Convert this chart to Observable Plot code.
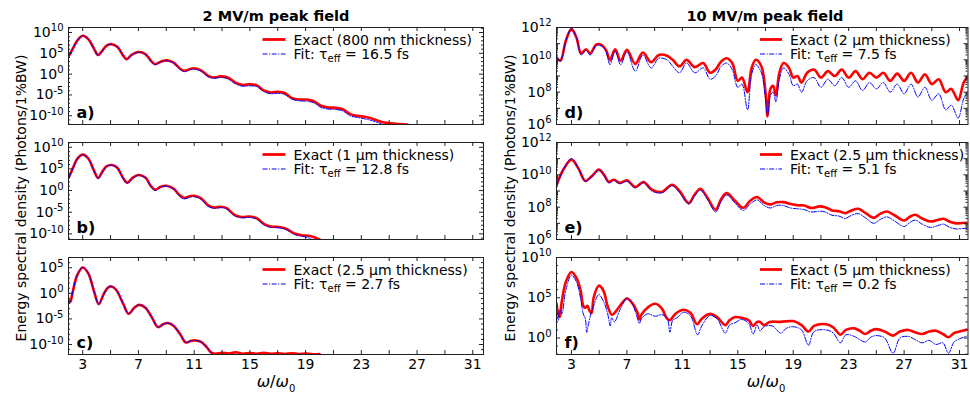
<!DOCTYPE html>
<html><head><meta charset="utf-8">
<script src="https://cdn.jsdelivr.net/npm/d3@7"></script>
<script src="https://cdn.jsdelivr.net/npm/@observablehq/plot@0.6"></script>
<style>
body{margin:0;background:#fff;font-family:"DejaVu Sans",sans-serif;}
#root{position:relative;width:970px;height:397px;overflow:hidden;background:#fff;}
.p{position:absolute;}
.t{position:absolute;white-space:nowrap;color:#000;font-family:"DejaVu Sans",sans-serif;}
</style></head><body><div id="root"></div>
<script>
// ---------- data: [omega/omega0, log10(spectral density)] ----------
const xTicks = [3,5,7,9,11,13,15,17,19,21,23,25,27,29,31];
const xLabels = [3,7,11,15,19,23,27,31];
const titles = ["2 MV/m peak field", "10 MV/m peak field"];
const yTitle = "Energy spectral density (Photons/1%BW)";
const panelLabels = ["a)","b)","c)","d)","e)","f)"];
const exactLabels = ["Exact (800 nm thickness)","Exact (1 \u03bcm thickness)","Exact (2.5 \u03bcm thickness)",
                     "Exact (2 \u03bcm thickness)","Exact (2.5 \u03bcm thickness)","Exact (5 \u03bcm thickness)"];
const tauEff = ["16.5","12.8","2.7","7.5","5.1","0.2"];

const exactA = [[2.0,4.4],[2.3,6.2],[2.6,8.0],[3.0,9.2],[3.4,8.4],[3.8,6.2],[4.1,4.6],[4.4,5.6],[4.7,6.8],[5.05,7.2],[5.5,6.5],[5.9,4.5],[6.15,3.6],[6.5,4.6],[7.0,5.3],[7.5,4.8],[7.95,3.0],[8.2,2.4],[8.6,3.0],[9.05,3.3],[9.5,2.8],[10.0,1.3],[10.3,0.8],[10.9,1.4],[11.5,0.9],[12.0,-0.4],[12.4,-0.8],[12.9,-0.55],[13.4,-0.8],[14.0,-2.1],[14.5,-2.6],[15.0,-2.45],[15.5,-2.7],[16.0,-3.9],[16.5,-4.4],[17.0,-4.25],[17.5,-4.55],[18.0,-5.7],[18.5,-6.1],[19.1,-6.1],[19.6,-6.5],[20.1,-7.6],[20.6,-8.0],[21.2,-8.1],[21.7,-8.5],[22.2,-9.6],[22.7,-10.0],[23.3,-10.3],[23.8,-10.7],[24.3,-11.3],[24.8,-11.7],[25.3,-11.85],[25.8,-12.0],[26.3,-12.1]];
const fitA = [[2.0,4.3],[2.3,6.2],[2.6,8.0],[3.0,9.2],[3.4,8.4],[3.8,6.2],[4.1,4.5],[4.4,5.6],[4.7,6.8],[5.05,7.15],[5.5,6.5],[5.9,4.4],[6.15,3.5],[6.5,4.5],[7.0,5.25],[7.5,4.7],[7.95,2.9],[8.2,2.3],[8.6,2.9],[9.05,3.2],[9.5,2.7],[10.0,1.1],[10.3,0.6],[10.9,1.2],[11.5,0.7],[12.0,-0.6],[12.4,-1.0],[12.9,-0.8],[13.4,-1.1],[14.0,-2.4],[14.5,-2.9],[15.0,-2.8],[15.5,-3.0],[16.0,-4.2],[16.5,-4.7],[17.0,-4.6],[17.5,-4.9],[18.0,-6.0],[18.5,-6.4],[19.1,-6.5],[19.6,-6.9],[20.1,-8.0],[20.6,-8.4],[21.2,-8.5],[21.7,-8.9],[22.2,-10.0],[22.7,-10.4],[23.3,-10.8],[23.8,-11.2],[24.3,-11.8],[24.7,-12.3]];

const exactB = [[2.0,3.0],[2.3,5.2],[2.6,7.3],[3.0,8.3],[3.4,7.4],[3.8,4.7],[4.1,2.9],[4.4,4.3],[4.7,5.6],[5.1,5.9],[5.5,5.2],[5.9,2.9],[6.2,1.8],[6.6,3.0],[7.0,3.6],[7.5,3.0],[7.9,1.0],[8.2,0.2],[8.6,0.9],[9.0,1.1],[9.5,0.5],[10.0,-1.2],[10.3,-1.7],[10.7,-1.3],[11.0,-1.2],[11.5,-1.8],[12.0,-3.4],[12.4,-3.9],[12.9,-3.75],[13.3,-4.0],[13.9,-5.6],[14.4,-6.1],[15.0,-6.0],[15.5,-6.4],[16.0,-7.7],[16.5,-8.3],[17.1,-8.4],[17.6,-8.8],[18.2,-9.9],[18.7,-10.3],[19.3,-10.5],[19.7,-10.9],[20.0,-11.3]];
const fitB = [[2.0,2.9],[2.3,5.1],[2.6,7.3],[3.0,8.3],[3.4,7.4],[3.8,4.6],[4.1,2.8],[4.4,4.2],[4.7,5.5],[5.1,5.85],[5.5,5.1],[5.9,2.8],[6.2,1.7],[6.6,2.9],[7.0,3.5],[7.5,2.9],[7.9,0.9],[8.2,0.0],[8.6,0.8],[9.0,1.0],[9.5,0.4],[10.0,-1.4],[10.3,-1.9],[10.7,-1.5],[11.0,-1.4],[11.5,-2.0],[12.0,-3.6],[12.4,-4.1],[12.9,-3.95],[13.3,-4.2],[13.9,-5.8],[14.4,-6.3],[15.0,-6.2],[15.5,-6.6],[16.0,-7.9],[16.5,-8.5],[17.1,-8.6],[17.6,-9.0],[18.2,-10.1],[18.7,-10.5],[19.2,-10.9],[19.5,-11.4]];

const exactC = [[1.97,-1.3],[2.1,-1.7],[2.3,0.5],[2.6,3.5],[3.0,5.05],[3.4,3.9],[3.8,0.5],[4.15,-2.1],[4.5,-0.2],[4.8,1.1],[5.05,1.35],[5.4,0.7],[5.9,-2.0],[6.3,-4.0],[6.7,-2.8],[7.05,-2.25],[7.5,-2.8],[8.0,-4.9],[8.4,-6.6],[8.8,-6.0],[9.1,-5.8],[9.5,-6.3],[10.0,-8.0],[10.4,-9.6],[10.8,-9.25],[11.1,-9.2],[11.5,-9.5],[11.9,-10.5],[12.2,-11.5],[12.5,-11.8],[13,-11.6],[13.5,-11.75],[14,-11.5],[14.5,-11.8],[15,-11.65],[15.5,-11.8],[16,-11.6],[16.5,-11.8],[17,-11.7],[17.5,-11.85],[18,-11.7],[18.5,-11.85],[19,-11.75],[19.5,-11.9],[20,-11.85]];
const fitC = [[1.97,-1.3],[2.1,-1.7],[2.3,0.5],[2.6,3.5],[3.0,5.05],[3.4,3.9],[3.8,0.5],[4.15,-2.1],[4.5,-0.2],[4.8,1.1],[5.05,1.35],[5.4,0.7],[5.9,-2.0],[6.3,-4.0],[6.7,-2.8],[7.05,-2.25],[7.5,-2.8],[8.0,-4.9],[8.4,-6.6],[8.8,-6.0],[9.1,-5.8],[9.5,-6.3],[10.0,-8.0],[10.4,-9.6],[10.8,-9.25],[11.1,-9.2],[11.5,-9.5],[11.9,-10.5],[12.2,-11.5],[12.35,-12.3]];

const exactD = [[1.92,10.1],[2.2,9.95],[2.6,11.2],[3.0,11.9],[3.35,11.4],[3.7,10.4],[4.05,10.65],[4.35,10.4],[4.8,10.95],[5.2,10.9],[5.5,10.6],[5.78,9.98],[6.15,10.65],[6.55,9.95],[7.0,10.62],[7.6,9.75],[8.15,10.45],[8.75,9.85],[9.3,10.3],[9.9,10.25],[10.3,10.0],[10.8,9.6],[11.3,10.0],[11.9,9.55],[12.5,9.8],[13.0,9.2],[13.4,9.4],[13.8,9.9],[14.2,10.1],[14.6,9.8],[15.0,8.7],[15.3,8.9],[15.7,8.0],[16.0,9.5],[16.3,10.0],[16.7,9.6],[17.0,8.0],[17.15,6.5],[17.35,8.2],[17.55,8.4],[17.75,7.8],[18.0,9.2],[18.3,9.8],[18.7,9.5],[19.0,8.9],[19.3,9.0],[19.6,8.6],[20.0,9.2],[20.5,9.4],[21.0,8.9],[21.5,9.3],[22.0,9.0],[22.5,9.4],[23.0,8.9],[23.5,9.3],[24.0,8.8],[24.5,9.2],[25.0,8.9],[25.5,9.2],[26.0,8.7],[26.5,9.15],[27.0,8.7],[27.5,9.2],[28.0,8.6],[28.5,9.1],[29.0,8.5],[29.5,8.8],[30.0,8.0],[30.4,8.2],[30.9,7.5],[31.3,8.6],[31.7,9.1]];
const fitD = [[1.92,10.3],[2.2,9.9],[2.6,11.2],[3.0,11.95],[3.35,11.4],[3.7,10.3],[4.05,10.6],[4.35,10.3],[4.8,10.9],[5.2,10.85],[5.5,10.5],[5.78,9.7],[6.15,10.55],[6.55,9.7],[7.0,10.5],[7.6,9.3],[8.15,10.3],[8.75,9.5],[9.3,10.1],[9.9,10.0],[10.3,9.6],[10.8,9.2],[11.3,9.8],[11.9,9.2],[12.5,9.5],[13.0,8.8],[13.4,9.0],[13.8,9.6],[14.2,9.8],[14.6,9.4],[15.0,8.3],[15.3,8.5],[15.7,6.9],[16.0,9.1],[16.3,9.7],[16.7,9.2],[17.0,7.6],[17.15,6.6],[17.35,7.8],[17.55,8.0],[17.75,7.4],[18.0,8.8],[18.3,9.5],[18.7,9.1],[19.0,8.4],[19.3,8.5],[19.6,8.0],[20.0,8.7],[20.5,8.9],[21.0,8.3],[21.5,8.8],[22.0,8.4],[22.5,8.9],[23.0,8.3],[23.5,8.7],[24.0,8.1],[24.5,8.6],[25.0,8.2],[25.5,8.6],[26.0,8.0],[26.5,8.5],[27.0,7.9],[27.5,8.5],[28.0,7.7],[28.5,8.3],[29.0,7.5],[29.5,7.9],[30.0,6.9],[30.4,7.2],[30.9,6.4],[31.3,7.6],[31.7,8.2]];

const exactE = [[1.92,9.35],[2.4,10.3],[3.0,10.94],[3.5,10.4],[4.0,9.62],[4.5,9.95],[4.97,10.32],[5.35,10.0],[5.7,9.56],[6.05,9.7],[6.5,9.5],[7.0,9.66],[7.6,9.25],[8.2,9.56],[8.8,9.08],[9.5,8.94],[10.26,9.39],[10.8,9.0],[11.46,8.25],[11.9,8.8],[12.3,9.14],[12.8,8.6],[13.4,7.84],[13.8,8.5],[14.2,8.87],[14.8,8.4],[15.4,7.96],[15.9,8.4],[16.4,8.63],[16.9,8.3],[17.35,8.17],[17.8,8.3],[18.3,8.31],[18.8,8.2],[19.3,8.12],[19.8,8.1],[20.3,7.95],[20.9,8.05],[21.3,8.0],[21.8,7.8],[22.3,7.75],[22.76,7.63],[23.2,7.8],[23.7,7.9],[24.2,7.65],[24.8,7.34],[25.3,7.6],[25.76,7.73],[26.3,7.5],[27.0,7.18],[27.4,7.4],[27.8,7.53],[28.3,7.3],[28.9,7.11],[29.4,7.2],[29.85,7.28],[30.3,7.1],[30.8,7.0],[31.2,7.02],[31.65,7.03]];
const fitE = [[1.92,9.3],[2.4,10.3],[3.0,11.0],[3.5,10.4],[4.0,9.6],[4.5,9.9],[4.97,10.3],[5.35,9.95],[5.7,9.5],[6.05,9.65],[6.5,9.45],[7.0,9.6],[7.6,9.2],[8.2,9.5],[8.8,9.0],[9.5,8.88],[10.26,9.32],[10.8,8.9],[11.46,8.2],[11.9,8.7],[12.3,9.05],[12.8,8.5],[13.4,7.7],[13.8,8.35],[14.2,8.75],[14.8,8.25],[15.4,7.8],[15.9,8.2],[16.4,8.45],[16.9,8.1],[17.35,7.95],[17.8,8.1],[18.3,8.1],[18.8,7.95],[19.3,7.9],[19.8,7.85],[20.3,7.7],[20.9,7.75],[21.3,7.7],[21.8,7.5],[22.3,7.45],[22.76,7.3],[23.2,7.5],[23.7,7.6],[24.2,7.35],[24.8,7.0],[25.3,7.25],[25.76,7.4],[26.3,7.15],[27.0,6.8],[27.4,7.05],[27.8,7.2],[28.3,6.95],[28.9,6.75],[29.4,6.85],[29.85,6.95],[30.3,6.75],[30.8,6.65],[31.2,6.68],[31.65,6.7]];

const exactF = [[1.92,4.3],[2.05,3.0],[2.15,2.6],[2.3,4.5],[2.6,7.0],[3.0,8.2],[3.35,7.5],[3.65,6.0],[3.85,4.0],[4.0,3.75],[4.15,4.0],[4.3,3.4],[4.45,3.1],[4.6,5.0],[4.97,6.5],[5.3,5.9],[5.6,4.0],[5.9,2.9],[6.1,3.1],[6.5,4.0],[7.0,4.9],[7.4,4.3],[7.75,3.2],[7.9,2.3],[8.05,2.9],[8.5,3.8],[9.05,4.25],[9.5,3.7],[9.9,2.4],[10.1,2.2],[10.5,3.0],[11.1,3.5],[11.6,3.1],[12.06,1.7],[12.4,2.4],[13.0,3.0],[13.5,2.6],[14.1,1.6],[14.4,2.2],[14.8,2.6],[15.3,2.5],[15.8,2.2],[16.1,1.5],[16.4,2.0],[16.6,2.0],[16.9,1.6],[17.3,2.0],[18.1,2.0],[19.0,2.1],[19.6,1.6],[20.1,0.8],[20.5,1.5],[21.4,1.7],[21.9,1.3],[22.4,0.4],[22.8,1.0],[23.4,1.2],[23.8,0.9],[24.2,0.5],[24.6,0.9],[25.0,1.1],[25.6,0.8],[26.2,0.3],[26.7,0.8],[27.3,1.0],[27.8,0.7],[28.3,0.5],[28.8,0.8],[29.3,0.9],[29.8,0.5],[30.2,0.1],[30.6,0.6],[31.0,0.8],[31.65,1.1]];
const fitF = [[1.92,3.0],[2.05,2.2],[2.15,3.5],[2.3,3.0],[2.6,6.0],[3.0,7.8],[3.35,7.0],[3.65,5.0],[3.85,3.0],[4.0,2.4],[4.1,0.7],[4.2,1.5],[4.4,3.0],[4.6,4.0],[4.97,5.4],[5.3,4.6],[5.6,3.1],[5.8,1.5],[5.9,2.5],[6.1,2.0],[6.5,3.5],[7.0,4.95],[7.4,4.2],[7.75,2.5],[7.9,1.8],[8.05,2.4],[8.5,3.0],[9.05,2.7],[9.5,2.9],[9.9,2.5],[10.1,0.7],[10.3,2.2],[10.6,2.5],[11.1,3.2],[11.6,2.7],[12.1,0.4],[12.4,1.5],[13.0,2.8],[13.5,2.4],[14.1,0.6],[14.4,1.6],[14.8,1.9],[15.3,2.3],[15.8,1.8],[16.1,0.5],[16.4,1.6],[16.6,0.9],[16.9,1.4],[17.5,1.5],[18.1,0.6],[18.5,1.2],[19.0,1.4],[19.6,1.0],[20.1,-0.9],[20.5,0.8],[21.4,1.0],[21.9,0.6],[22.4,-0.6],[22.8,0.4],[23.4,0.2],[23.8,-0.2],[24.2,-0.5],[24.6,0.1],[25.0,0.3],[25.6,0.0],[26.2,-1.9],[26.7,0.0],[27.3,0.2],[27.8,-0.2],[28.3,-0.6],[28.8,-0.3],[29.3,-0.8],[29.8,-0.6],[30.2,-1.9],[30.6,-0.5],[31.0,-0.1],[31.65,0.3]];

// axis ranges (log10) and major ticks (log10)
const yRanges = [[-12.1,11.2],[-11.3,11.1],[-11.95,7.0],[6,12],[6,12],[-2.05,10]];
const yMajors = [[-10,-5,0,5,10],[-10,-5,0,5,10],[-10,-5,0,5],[6,8,10,12],[6,8,10,12],[0,5,10]];
const yLabeled = [[-10,-5,0,5,10],[-10,-5,0,5,10],[-10,-5,0,5],[6,8,10,12],[6,8,10,12],[0,5,10]];

// ---------- layout ----------
const root = document.getElementById("root");
const cols = [{left:67.5, w:415, dom:[1.98,31.77], legX:262, legLen:23, legText:293},
              {left:556, w:411.5, dom:[1.92,31.61], legX:760, legLen:22, legText:790}];
const rows = [27, 142, 257];
const plotH = 97;
const ML = 62, MR = 6, MT = 6;

const allExact = [exactA, exactB, exactC, exactD, exactE, exactF];
const allFit = [fitA, fitB, fitC, fitD, fitE, fitF];

function supText(svg) {
  d3.select(svg).selectAll("text").each(function() {
    const t = this.textContent;
    if (/^10\^/.test(t) && this.childElementCount === 0) {
      const e = t.slice(3);
      this.textContent = "";
      d3.select(this).append("tspan").text("10");
      d3.select(this).append("tspan").attr("dy","-0.55em").attr("font-size","10px").text(e);
    }
  });
}

for (let k = 0; k < 6; k++) {
  const c = cols[Math.floor(k/3)];
  const r = k % 3;
  const bottom = r === 2;
  const MB = bottom ? 28 : 6;
  const [e0, e1] = yRanges[k];
  const minors = [];
  if (k === 3 || k === 4) {
    for (let n = 6; n < 12; n++) for (let m = 2; m <= 9; m++) minors.push(m * 10**n);
  } else {
    for (let n = Math.ceil(e0); n <= Math.floor(e1); n++) if (!yMajors[k].includes(n)) minors.push(10**n);
  }
  const majors = yMajors[k].map(e => 10**e).concat((k===3||k===4) ? [1e7,1e9,1e11] : []);
  const toRows = arr => arr.map(([x, e]) => ({x, y: 10**e}));
  const W = ML + c.w + MR;
  const svg = Plot.plot({
    width: W, height: MT + plotH + MB,
    marginLeft: ML, marginRight: MR, marginTop: MT, marginBottom: MB,
    style: {fontFamily: "DejaVu Sans, sans-serif", fontSize: "14px", background: "transparent", overflow: "visible", color: "#000"},
    x: {domain: c.dom, axis: null},
    y: {type: "log", domain: [10**e0, 10**e1], axis: null},
    marks: [
      Plot.line(toRows(allExact[k]), {x: "x", y: "y", stroke: "#ff0000", strokeWidth: 2.6, curve: "catmull-rom", clip: true}),
      Plot.line(toRows(allFit[k]), {x: "x", y: "y", stroke: "#0000ff", strokeWidth: 1, strokeDasharray: "5,1.6,1,1.6", curve: "catmull-rom", clip: true}),
      Plot.frame({stroke: "#222", strokeWidth: 1}),
      Plot.tickX(xTicks, {x: d => d, insetTop: plotH - 4, stroke: "#222"}),
      Plot.tickX(xTicks, {x: d => d, insetBottom: plotH - 4, stroke: "#222"}),
      Plot.tickY(majors, {y: d => d, insetRight: c.w - 4, stroke: "#222"}),
      Plot.tickY(majors, {y: d => d, insetLeft: c.w - 4, stroke: "#222"}),
      Plot.tickY(minors, {y: d => d, insetRight: c.w - 2, stroke: "#222"}),
      Plot.tickY(minors, {y: d => d, insetLeft: c.w - 2, stroke: "#222"}),
      Plot.axisY({ticks: yLabeled[k].map(e => 10**e), tickSize: 0, tickPadding: 5, label: null, fontSize: 14,
                  tickFormat: d => "10^" + Math.round(Math.log10(d))}),
      bottom ? Plot.axisX({ticks: xLabels, tickSize: 0, tickPadding: 5, label: null, fontSize: 14, tickFormat: d => String(d)}) : null,
      Plot.text([panelLabels[k]], {frameAnchor: "bottom-left", dx: 8, dy: -7, fontWeight: "bold", fontSize: 16, fill: "#000", textAnchor: "start"})
    ]
  });
  supText(svg);
  // legend
  const s = d3.select(svg);
  const ox = c.left - ML, top = rows[r];
  const g = s.append("g").attr("text-anchor", "start");
  const y1 = MT + 12.5, y2 = MT + 27;
  g.append("line").attr("x1", c.legX - ox).attr("x2", c.legX + c.legLen - ox).attr("y1", y1).attr("y2", y1)
    .attr("stroke", "#ff0000").attr("stroke-width", 2.8);
  g.append("line").attr("x1", c.legX - ox).attr("x2", c.legX + c.legLen - ox).attr("y1", y2).attr("y2", y2)
    .attr("stroke", "#0000ff").attr("stroke-width", 1).attr("stroke-dasharray", "5,1.6,1,1.6");
  g.append("text").attr("x", c.legText - ox).attr("y", y1 + 5).attr("font-size", 14).attr("fill", "#000").attr("text-anchor", "start").text(exactLabels[k]);
  const t2 = g.append("text").attr("x", c.legText - ox).attr("y", y2 + 5).attr("font-size", 14).attr("fill", "#000").attr("text-anchor", "start");
  t2.append("tspan").text("Fit: \u03c4");
  t2.append("tspan").attr("font-size", 10).attr("dy", "0.3em").text("eff");
  t2.append("tspan").attr("font-size", 14).attr("dy", "-0.2em").text(" = " + tauEff[k] + " fs");
  svg.classList.add("p");
  svg.style.left = ox + "px";
  svg.style.top = (top - MT) + "px";
  root.appendChild(svg);
}

// titles, axis labels
function addText(html, x, y, css) {
  const d = document.createElement("div");
  d.className = "t";
  d.innerHTML = html;
  d.style.left = x + "px"; d.style.top = y + "px";
  Object.assign(d.style, css || {});
  root.appendChild(d);
}
addText(titles[0], 276, 16, {transform: "translate(-50%,-50%)", fontWeight: "bold", fontSize: "14.5px"});
addText(titles[1], 765, 16, {transform: "translate(-50%,-50%)", fontWeight: "bold", fontSize: "14.5px"});
addText(yTitle, 21, 198, {transform: "translate(-50%,-50%) rotate(-90deg)", fontSize: "14px"});
addText(yTitle, 510, 198, {transform: "translate(-50%,-50%) rotate(-90deg)", fontSize: "14px"});
const xl = '<i>\u03c9</i>/<i>\u03c9</i><sub style="font-size:10px">0</sub>';
addText(xl, 276, 383, {transform: "translate(-50%,-50%)", fontSize: "16px"});
addText(xl, 766, 383, {transform: "translate(-50%,-50%)", fontSize: "16px"});
</script></body></html>
